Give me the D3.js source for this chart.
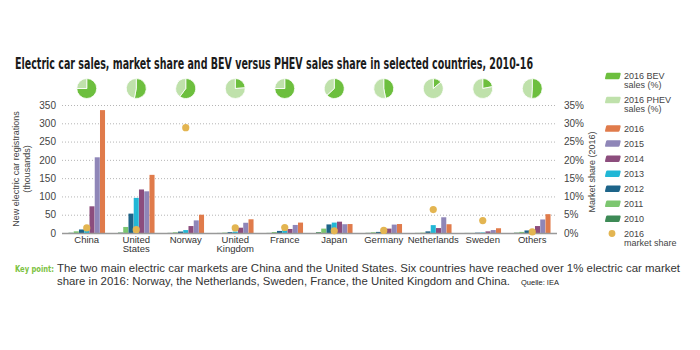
<!DOCTYPE html>
<html>
<head>
<meta charset="utf-8">
<script src="https://cdn.jsdelivr.net/npm/d3@7"></script>
<style>
  body { margin: 0; background: #fff; }
  svg { font-family: "Liberation Sans", Arial, sans-serif; }
</style>
</head>
<body>
<svg id="chart" width="700" height="350"></svg>
<script>
// data
const countries = ["China", "United States", "Norway", "United Kingdom", "France", "Japan", "Germany", "Netherlands", "Sweden", "Others"];
const years = ["2010", "2011", "2012", "2013", "2014", "2015", "2016"];
const sales2010 = [0.7, 1.2, 0.4, 0.2, 0.3, 2.2, 0.5, 0.3, 0.2, 1.0];
const sales2011 = [4.6, 16.5, 2.0, 1.1, 2.6, 12.0, 2.0, 1.0, 0.3, 3.0];
const sales2012 = [9.6, 53, 4.0, 2.5, 5.7, 23.5, 3.0, 4.5, 1.0, 7.0];
const sales2013 = [15, 96, 8.0, 4.0, 9.0, 28.5, 6.0, 21.5, 1.5, 8.0];
const sales2014 = [73, 119, 19, 14.5, 11, 31, 12, 13.5, 4.5, 19];
const sales2015 = [207, 114, 34.5, 28, 22, 24, 23, 43, 8, 37];
const sales2016 = [336, 159, 50, 37.5, 28.5, 24.5, 24.5, 24, 13, 51.5];
const marketShare2016 = [1.4, 0.9, 28.8, 1.4, 1.5, 0.6, 0.7, 6.4, 3.4, 0.3];
const bevShare2016 = [75, 53, 60, 24, 75, 63, 47, 14, 22, 51];
const leftTicks = [0, 50, 100, 150, 200, 250, 300, 350];
const rightTicks = [0, 5, 10, 15, 20, 25, 30, 35];

const seriesByYear = [sales2010, sales2011, sales2012, sales2013, sales2014, sales2015, sales2016];
const yearColors = {
  "2010": "#3d8a56",
  "2011": "#7cc670",
  "2012": "#1d6489",
  "2013": "#21b7d6",
  "2014": "#8c4d7d",
  "2015": "#8f86b8",
  "2016": "#e07b4b"
};
const bevColor = "#6dbf3e", phevColor = "#bfe1ab", dotColor = "#e3b551";

const svg = d3.select("#chart");
const margin = { left: 62, right: 143, top: 105, bottom: 117 };
const width = 700, height = 350;

const x = d3.scaleBand().domain(countries).range([margin.left, width - margin.right]);
const xInner = d3.scaleBand().domain(years).range([0, 37]).padding(0.04);
const y = d3.scaleLinear().domain([0, 350]).range([height - margin.bottom, margin.top]);
const yRight = d3.scaleLinear().domain([0, 35]).range([height - margin.bottom, margin.top]);

// title
svg.append("text")
  .attr("x", 15).attr("y", 69)
  .attr("font-family", "'Liberation Sans Narrow', 'DejaVu Sans Condensed', sans-serif")
  .attr("font-weight", "bold").attr("font-size", 15)
  .attr("fill", "#1b1b1b")
  .attr("textLength", 518).attr("lengthAdjust", "spacingAndGlyphs")
  .text("Electric car sales, market share and BEV versus PHEV sales share in selected countries, 2010-16");

// dotted grid
svg.append("g").selectAll("line").data(leftTicks.filter(d => d > 0)).join("line")
  .attr("x1", margin.left).attr("x2", width - margin.right - 1)
  .attr("y1", d => y(d) + 0.5).attr("y2", d => y(d) + 0.5)
  .attr("stroke", "#b5b5b5").attr("stroke-width", 1).attr("stroke-dasharray", "1,2");

// left axis
const leftAxis = svg.append("g").attr("transform", `translate(${margin.left},0)`)
  .call(d3.axisLeft(y).tickValues(leftTicks).tickSize(0).tickPadding(6));
leftAxis.select(".domain").remove();
leftAxis.selectAll("text").attr("font-size", 10).attr("fill", "#444")
  .attr("font-family", "'Liberation Sans', Arial, sans-serif");

// right axis
const rightAxis = svg.append("g").attr("transform", `translate(${width - margin.right + 7},0)`)
  .call(d3.axisRight(yRight).tickValues(rightTicks).tickSize(0).tickPadding(0).tickFormat(d => d + "%"));
rightAxis.select(".domain").remove();
rightAxis.selectAll("text").attr("font-size", 10).attr("fill", "#444");

// axis titles
const leftTitle = svg.append("text")
  .attr("transform", `translate(19,${(y(0) + y(350)) / 2}) rotate(-90)`)
  .attr("text-anchor", "middle").attr("font-size", 9).attr("fill", "#444");
leftTitle.append("tspan").attr("x", 0).attr("dy", 0).text("New electric car registrations");
leftTitle.append("tspan").attr("x", 0).attr("dy", 10.5).text("(thousands)");

svg.append("text")
  .attr("transform", `translate(595,${(y(0) + y(350)) / 2 + 3}) rotate(-90)`)
  .attr("text-anchor", "middle").attr("font-size", 9).attr("fill", "#444")
  .text("Market share (2016)");

// bars
const groups = svg.append("g").selectAll("g").data(countries).join("g")
  .attr("transform", d => `translate(${x(d) + x.bandwidth() / 2 - 18.5},0)`);
groups.selectAll("rect")
  .data((c, i) => years.map((yr, j) => ({ year: yr, value: seriesByYear[j][i] })))
  .join("rect")
  .attr("x", d => xInner(d.year))
  .attr("width", xInner.bandwidth())
  .attr("y", d => y(d.value))
  .attr("height", d => y(0) - y(d.value))
  .attr("fill", d => yearColors[d.year]);

// baseline
svg.append("line")
  .attr("x1", margin.left).attr("x2", width - margin.right)
  .attr("y1", y(0) + 0.5).attr("y2", y(0) + 0.5)
  .attr("stroke", "#999").attr("stroke-width", 1.5);

// market share dots
svg.append("g").selectAll("circle").data(countries).join("circle")
  .attr("cx", d => x(d) + x.bandwidth() / 2)
  .attr("cy", (d, i) => yRight(marketShare2016[i]))
  .attr("r", 3.6)
  .attr("fill", dotColor);

// category labels
svg.append("g").selectAll("text").data(countries).join("text")
  .attr("x", d => x(d) + x.bandwidth() / 2)
  .attr("y", 243)
  .attr("text-anchor", "middle").attr("font-size", 9.5).attr("fill", "#333")
  .each(function (d) {
    const words = (d === "United States" || d === "United Kingdom") ? d.split(" ") : [d];
    d3.select(this).selectAll("tspan").data(words).join("tspan")
      .attr("x", x(d) + x.bandwidth() / 2)
      .attr("dy", (w, k) => k === 0 ? 0 : 9)
      .text(w => w);
  });

// pies
const pie = d3.pie().sort(null);
const arc = d3.arc().innerRadius(0).outerRadius(10);
countries.forEach((c, i) => {
  const g = svg.append("g").attr("transform", `translate(${x(c) + x.bandwidth() / 2},88.5)`);
  g.selectAll("path").data(pie([bevShare2016[i], 100 - bevShare2016[i]])).join("path")
    .attr("d", arc)
    .attr("fill", (d, k) => k === 0 ? bevColor : phevColor)
    .attr("stroke", "#fff").attr("stroke-width", 0.8);
});

// legend
const legendItems = [
  { label: ["2016 BEV", "sales (%)"], color: bevColor, y: 76 },
  { label: ["2016 PHEV", "sales (%)"], color: phevColor, y: 100 }
].concat(years.slice().reverse().map((yr, k) => ({ label: [yr], color: yearColors[yr], y: 128.5 + k * 15.05 })));

const legend = svg.append("g");
legendItems.forEach(item => {
  legend.append("path")
    .attr("d", `M606,${item.y - 3.2} h14 q1,0 0.6,1.5 l-1,4 q-0.3,1 -1.3,1 h-12.6 q-1,0 -0.6,-1.5 l1,-4 q0.3,-1 1.2,-1z`)
    .attr("fill", item.color);
  const t = legend.append("text").attr("x", 624).attr("y", item.y + 3.3)
    .attr("font-size", 9).attr("fill", "#444");
  item.label.forEach((l, k) => t.append("tspan").attr("x", 624).attr("dy", k === 0 ? 0 : 9).text(l));
});
legend.append("circle").attr("cx", 612).attr("cy", 233.5).attr("r", 3.4).attr("fill", dotColor);
const dotText = legend.append("text").attr("x", 624).attr("y", 236.5).attr("font-size", 9).attr("fill", "#444");
dotText.append("tspan").attr("x", 624).text("2016");
dotText.append("tspan").attr("x", 624).attr("dy", 9).text("market share");

// key point
svg.append("text")
  .attr("x", 15).attr("y", 271.5)
  .attr("font-family", "'Liberation Sans Narrow', 'DejaVu Sans Condensed', sans-serif")
  .attr("font-weight", "bold").attr("font-size", 9.5).attr("fill", "#7cc242")
  .attr("textLength", 39).attr("lengthAdjust", "spacingAndGlyphs")
  .text("Key point:");
svg.append("text")
  .attr("x", 57).attr("y", 272).attr("font-size", 10.5).attr("fill", "#333")
  .attr("textLength", 623).attr("lengthAdjust", "spacingAndGlyphs")
  .text("The two main electric car markets are China and the United States. Six countries have reached over 1% electric car market");
svg.append("text")
  .attr("x", 57).attr("y", 285).attr("font-size", 10.5).attr("fill", "#333")
  .attr("textLength", 453).attr("lengthAdjust", "spacingAndGlyphs")
  .text("share in 2016: Norway, the Netherlands, Sweden, France, the United Kingdom and China.");
svg.append("text")
  .attr("x", 521).attr("y", 285).attr("font-size", 7.5).attr("fill", "#222")
  .text("Quelle: IEA");
</script>
</body>
</html>
